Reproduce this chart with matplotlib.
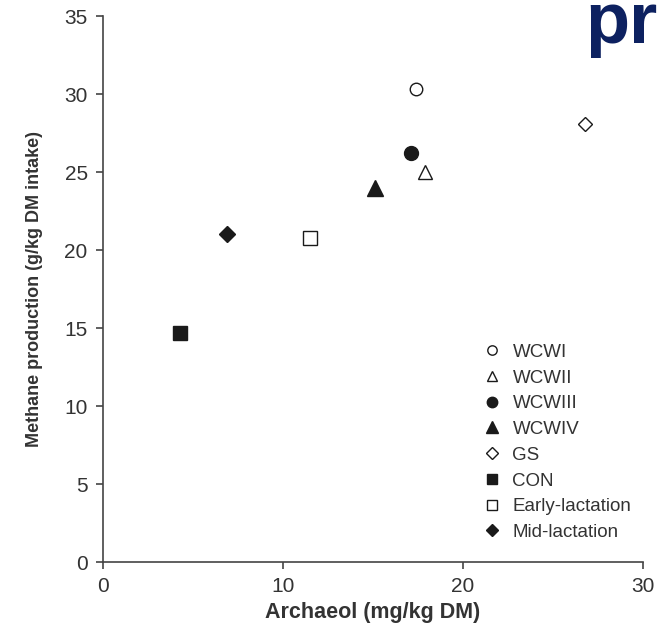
import matplotlib
matplotlib.use("Agg")
import matplotlib.pyplot as plt
from matplotlib.lines import Line2D

plt.rcParams['font.family'] = ['Liberation Sans', 'DejaVu Sans']

# group means: archaeol vs methane yield
groups = ['WCWI', 'WCWII', 'WCWIII', 'WCWIV', 'GS', 'CON', 'Early-lactation', 'Mid-lactation']
archaeol = [17.4, 17.9, 17.1, 15.1, 26.8, 4.3, 11.5, 6.9]
methane = [30.3, 25.0, 26.2, 24.0, 28.1, 14.7, 20.8, 21.0]
markers = ['o', '^', 'o', '^', 'D', 's', 's', 'D']
filled = [False, False, True, True, False, True, False, True]
sizes = [9, 10, 10, 11, 7.5, 10, 10, 8]

x_ticks = [0, 10, 20, 30]
y_ticks = [0, 5, 10, 15, 20, 25, 30, 35]

fig = plt.figure(figsize=(6.58, 6.28), dpi=100)
ax = fig.add_axes([0.1565, 0.105, 0.8205, 0.8695])

ink = '#1a1a1a'
handles = []
for name, x, y, m, f, s in zip(groups, archaeol, methane, markers, filled, sizes):
    face = ink if f else 'white'
    ax.plot([x], [y], marker=m, markersize=s, markerfacecolor=face,
            markeredgecolor=ink, markeredgewidth=1.0, linestyle='none', zorder=3)
    handles.append(Line2D([], [], marker=m, markersize=s * 0.75, markerfacecolor=face,
                          markeredgecolor=ink, markeredgewidth=1.0, linestyle='none',
                          label=name))

ax.set_xlim(0, 30)
ax.set_ylim(0, 35)
ax.set_xticks(x_ticks)
ax.set_yticks(y_ticks)
for side in ('top', 'right'):
    ax.spines[side].set_visible(False)
for side in ('left', 'bottom'):
    ax.spines[side].set_color('#444444')
    ax.spines[side].set_linewidth(1.2)
ax.tick_params(direction='out', length=5, width=1.2, color='#444444',
               labelsize=15, labelcolor='#333333', pad=6)

ax.set_xlabel('Archaeol (mg/kg DM)', fontsize=15.5, fontweight='bold',
              color='#333333', labelpad=4)
ax.set_ylabel('Methane production (g/kg DM intake)', fontsize=13, fontweight='bold',
              color='#333333', labelpad=15,
              family=['Liberation Sans Narrow', 'Liberation Sans', 'DejaVu Sans'])

leg = ax.legend(handles=handles, loc='upper left', bbox_to_anchor=(0.689, 0.4137),
                frameon=False, fontsize=13.5, handlelength=1.0, handletextpad=0.6,
                labelspacing=0.46, borderaxespad=0.0)
for t in leg.get_texts():
    t.set_color('#333333')

# heading fragment at the top-right corner
fig.text(585 / 658, 1 - 43 / 628, 'pr', fontsize=52, fontweight='bold',
         color='#0d2160', ha='left', va='baseline')

fig.savefig('out.png', dpi=100)
